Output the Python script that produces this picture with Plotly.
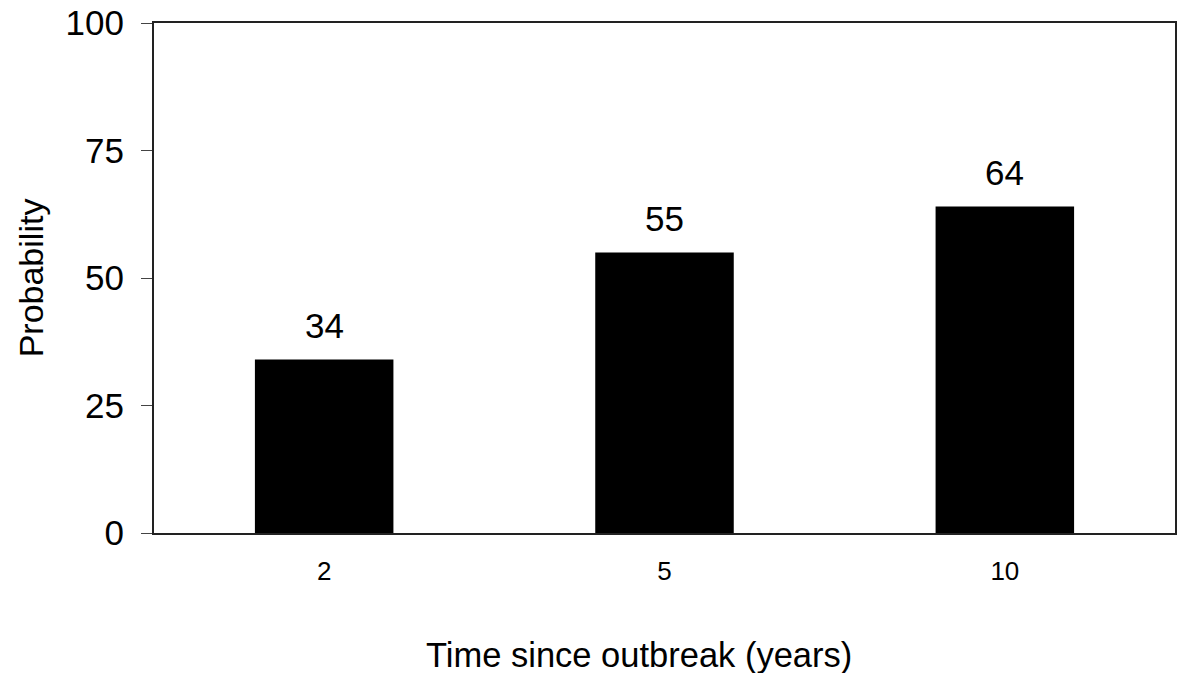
import plotly.graph_objects as go

# Probability by time since outbreak
years = ["2", "5", "10"]
probability = [34, 55, 64]
y_ticks = [0, 25, 50, 75, 100]

FONT = "Liberation Sans, Arial, sans-serif"

fig = go.Figure(
    go.Bar(
        x=years,
        y=probability,
        marker=dict(color="black", line=dict(width=0)),
        width=0.407,
        hoverinfo="skip",
    )
)

# value labels above each bar (category axes use index positions)
for i, p in enumerate(probability):
    fig.add_annotation(
        x=i, xref="x", y=p, yref="y", text=str(p), showarrow=False,
        yanchor="bottom", yshift=13,
        font=dict(family=FONT, size=35, color="black"),
    )

# x-axis title, placed as an annotation for finer positioning
plot_h = 673 - 22 - 140
fig.add_annotation(
    x=0.475, xref="paper", y=(673 - 140 - 655) / plot_h, yref="paper",
    yanchor="middle",
    text="Time since outbreak (years)", showarrow=False,
    font=dict(family=FONT, size=34.5, color="black"),
)

fig.update_layout(
    width=1180, height=673,
    margin=dict(l=154, r=3, t=22, b=140),
    paper_bgcolor="white", plot_bgcolor="white",
    showlegend=False,
    xaxis=dict(
        type="category",
        range=[-0.5, len(years) - 0.5],
        showgrid=False, zeroline=False,
        showline=True, linecolor="#222", linewidth=2, mirror=True,
        ticks="", ticklabelstandoff=14,
        tickfont=dict(family=FONT, size=26, color="black"),
    ),
    yaxis=dict(
        range=[0, 100],
        tickvals=y_ticks,
        showgrid=False, zeroline=False,
        showline=True, linecolor="#222", linewidth=2, mirror=True,
        ticks="outside", ticklen=11, tickwidth=1, tickcolor="#444",
        ticklabelstandoff=10,
        tickfont=dict(family=FONT, size=35, color="black"),
        title=dict(text="Probability", standoff=12,
                   font=dict(family=FONT, size=34, color="black")),
    ),
)

fig.write_html("out.html")
